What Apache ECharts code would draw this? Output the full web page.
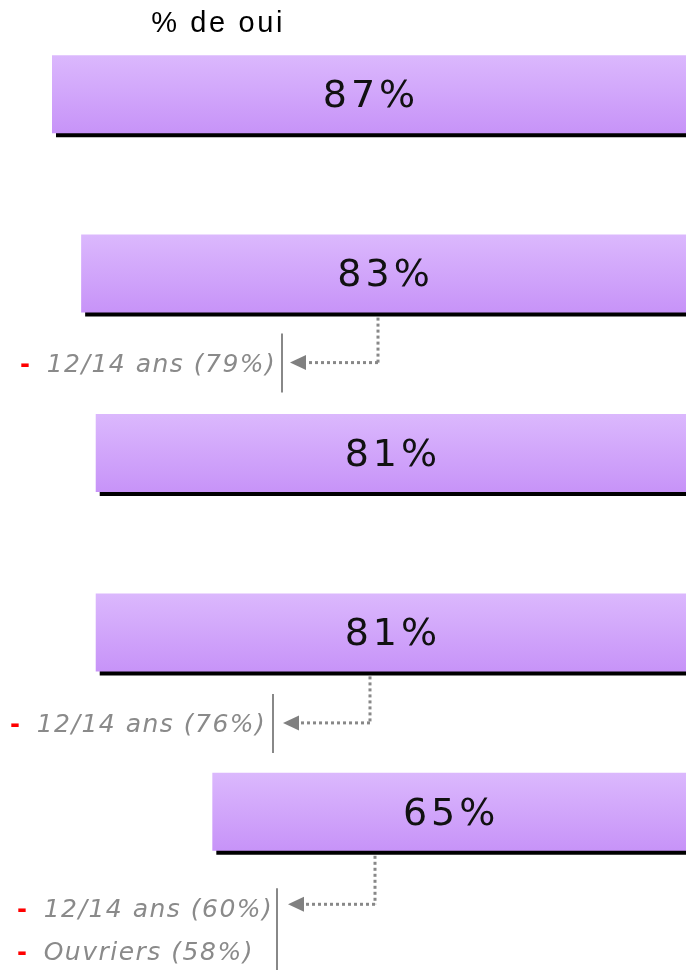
<!DOCTYPE html>
<html>
<head>
<meta charset="utf-8">
<script src="https://cdn.jsdelivr.net/npm/echarts@6/dist/echarts.min.js"></script>
<style>html,body{margin:0;padding:0;background:#fff}#c{width:686px;height:970px}</style>
</head>
<body>
<div id="c"></div>
<script>
// ---- data ----
const categories = ['Item 1', 'Item 2', 'Item 3', 'Item 4', 'Item 5'];
const values = [87, 83, 81, 81, 65];
const noteCategory = [1, 3, 4];
const noteLines = [
  ['12/14 ans (79%)'],
  ['12/14 ans (76%)'],
  ['12/14 ans (60%)', 'Ouvriers (58%)']
];
const titleText = '% de oui';

// ---- layout (pixels, relative to the bar's bottom edge) ----
const noteLayout = [
  { dotX: 378, tipX: 290, lineX: 282, textLeft: 20, arrowDy: 50, textDy: 53, lineTop: 21, lineBottom: 80 },
  { dotX: 370, tipX: 283, lineX: 273, textLeft: 10, arrowDy: 51.5, textDy: 54.5, lineTop: 22.5, lineBottom: 81.5 },
  { dotX: 375, tipX: 288, lineX: 277, textLeft: 17, arrowDy: 53.5, textDy: 59.5, lineTop: 37.5, lineBottom: 125 }
];
const BAR_W = 78;
const LINE_GAP = 43.5;

function spaced(str, key) {
  return str.split('').map(ch => '{' + key + '|' + ch + '}').join('');
}

const chart = echarts.init(document.getElementById('c'), null, { renderer: 'canvas' });

const noteRich = {
  r: { fontFamily: 'DejaVu Sans', fontSize: 24, fontWeight: 'bold', fill: '#ff0000', color: '#ff0000' },
  g: { fontFamily: 'DejaVu Sans', fontSize: 25, fill: '#888', color: '#888', padding: [0, 4, 0, 4] },
  c: { fontFamily: 'DejaVu Sans', fontSize: 25, fontStyle: 'italic', fill: '#8a8a8a', color: '#8a8a8a', padding: [0, 0.75, 0, 0.75] }
};

const option = {
  animation: false,
  title: {
    text: spaced(titleText, 't'),
    left: 145,
    top: 4,
    textStyle: {
      fontWeight: 'normal',
      rich: { t: { fontFamily: 'Liberation Sans', fontSize: 29, fontWeight: 'normal', color: '#000', padding: [0, 1.3, 0, 1.3] } }
    }
  },
  grid: { left: 52, right: 0, top: 4.5, bottom: 68.5, containLabel: false },
  xAxis: {
    type: 'value', inverse: true, min: 0, max: 87,
    show: false
  },
  yAxis: {
    type: 'category', data: categories, inverse: true, show: false
  },
  series: [
    {
      type: 'bar',
      data: values,
      barWidth: BAR_W,
      itemStyle: {
        color: new echarts.graphic.LinearGradient(0, 0, 0, 1, [
          { offset: 0, color: '#dbb8fd' },
          { offset: 1, color: '#c793f8' }
        ]),
        shadowColor: '#000',
        shadowBlur: 0,
        shadowOffsetX: 4,
        shadowOffsetY: 4
      },
      label: {
        show: true,
        position: 'inside',
        offset: [0, 3],
        formatter: p => spaced(p.value + '%', 'd'),
        rich: {
          d: { fontFamily: 'DejaVu Sans', fontSize: 38, color: '#111', padding: [0, 2, 0, 2] }
        }
      }
    },
    {
      type: 'custom',
      clip: false,
      silent: true,
      data: noteCategory.map((c, i) => [0, c, i]),
      encode: { x: 0, y: 1 },
      renderItem: function (params, api) {
        const i = api.value(2);
        const L = noteLayout[i];
        const center = api.coord([0, api.value(1)]);
        const B = center[1] + BAR_W / 2;
        const yA = B + L.arrowDy;
        const children = [
          { type: 'line', shape: { x1: L.dotX, y1: B + 5, x2: L.dotX, y2: yA }, style: { stroke: '#888', lineWidth: 3, lineDash: [3, 3] } },
          { type: 'line', shape: { x1: L.dotX, y1: yA, x2: L.tipX + 14, y2: yA }, style: { stroke: '#888', lineWidth: 3, lineDash: [3, 3] } },
          { type: 'polygon', shape: { points: [[L.tipX, yA], [L.tipX + 16, yA - 7.5], [L.tipX + 16, yA + 7.5]] }, style: { fill: '#808080' } },
          { type: 'line', shape: { x1: L.lineX, y1: B + L.lineTop, x2: L.lineX, y2: B + L.lineBottom }, style: { stroke: '#888', lineWidth: 2 } }
        ];
        noteLines[i].forEach((t, k) => {
          children.push({
            type: 'text',
            x: L.textLeft,
            y: B + L.textDy + k * LINE_GAP,
            style: {
              text: '{r|-}{g| }' + spaced(t, 'c'),
              rich: noteRich,
              align: 'left',
              verticalAlign: 'middle'
            }
          });
        });
        return { type: 'group', children: children };
      }
    }
  ]
};
chart.setOption(option);
</script>
</body>
</html>
